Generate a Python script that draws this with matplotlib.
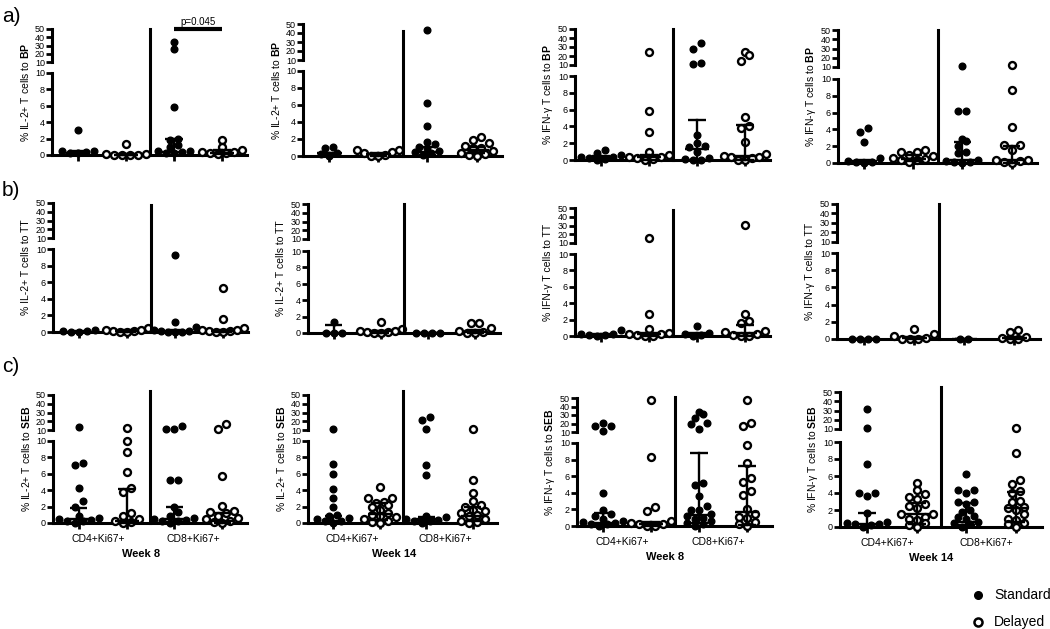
import numpy as np
import matplotlib
matplotlib.use("Agg")
import matplotlib.pyplot as plt
from matplotlib.lines import Line2D

plt.rcParams['font.family'] = ['Liberation Sans', 'DejaVu Sans']
plt.rcParams['mathtext.fontset'] = 'custom'
plt.rcParams['mathtext.rm'] = 'Liberation Sans'
plt.rcParams['mathtext.bf'] = 'Liberation Sans:bold'

W, H = 1050, 629

# groups in every panel: CD4 Standard, CD4 Delayed, CD8 Standard, CD8 Delayed
group_x = [1, 2, 3, 4]
group_filled = [True, False, True, False]
categories = ["CD4+Ki67+", "CD8+Ki67+"]
weeks = ["Week 8", "Week 14", "Week 8", "Week 14"]

# ---- row a) BP ----
a_il2_w8 = [
    [3.0, 0.5, 0.4, 0.3, 0.2, 0.5],
    [1.3, 0.1, 0.0, 0.0, 0.1, 0.0, 0.05],
    [34, 26, 5.8, 2.0, 1.8, 1.2, 1.0, 0.5, 0.4, 0.3, 0.2, 0.5],
    [1.8, 1.0, 0.6, 0.4, 0.3, 0.2, 0.1, 0.4],
]
a_il2_w8_stats = [(0.3, 0.1, 0.45), (0.05, 0.0, 0.1), (0.4, 0.0, 1.9), (0.3, 0.1, 0.6)]

a_il2_w14 = [
    [1.1, 0.9, 0.3, 0.2, 0.0],
    [0.7, 0.7, 0.5, 0.3, 0.1, 0.0, 0.0],
    [43, 6.2, 3.5, 1.7, 1.4, 1.1, 0.9, 0.6, 0.5, 0.3, 0.1],
    [2.2, 1.9, 1.5, 1.2, 1.0, 0.9, 0.6, 0.4, 0.2, 0.1, 0.0],
]
a_il2_w14_stats = [(0.3, 0.1, 0.4), (0.2, 0.0, 0.4), (0.5, 0.1, 1.1), (0.7, 0.3, 1.1)]

a_ifn_w8 = [
    [1.2, 0.8, 0.6, 0.4, 0.3, 0.2, 0.1, 0.0],
    [25, 5.8, 3.3, 1.0, 0.6, 0.4, 0.3, 0.2, 0.1, 0.0],
    [34, 28, 12, 11, 3.0, 2.0, 1.7, 1.5, 1.0, 0.2, 0.0, 0.0, 0.1],
    [24, 21, 14.5, 5.1, 4.1, 3.8, 2.1, 0.7, 0.5, 0.4, 0.3, 0.2, 0.0, 0.0],
]
a_ifn_w8_stats = [(0.3, 0.1, 0.5), (0.3, 0.0, 0.6), (1.3, 0.0, 4.8), (0.5, 0.0, 4.2)]

a_ifn_w14 = [
    [4.2, 3.7, 2.5, 0.6, 0.2, 0.1, 0.0, 0.1],
    [1.5, 1.3, 1.3, 1.0, 0.8, 0.6, 0.4, 0.3, 0.1, 0.5],
    [11, 6.2, 6.2, 2.9, 2.6, 2.0, 1.3, 1.2, 0.3, 0.2, 0.1, 0.0, 0.1],
    [12, 8.7, 4.3, 2.1, 2.1, 1.5, 0.4, 0.3, 0.2, 0.1, 0.0],
]
a_ifn_w14_stats = [(0.2, 0.0, 0.3), (0.5, 0.2, 1.0), (0.3, 0.0, 2.5), (0.4, 0.0, 2.0)]

# ---- row b) TT ----
b_il2_w8 = [
    [0.1, 0.0, 0.1, 0.0, 0.2],
    [0.5, 0.3, 0.2, 0.1, 0.0, 0.0, 0.1],
    [9.3, 1.2, 0.6, 0.2, 0.1, 0.0, 0.0, 0.0, 0.1],
    [5.3, 1.6, 0.5, 0.3, 0.2, 0.1, 0.0, 0.0, 0.1],
]
b_il2_w8_stats = [(0.05, 0.0, 0.1), (0.1, 0.0, 0.2), (0.1, 0.0, 0.2), (0.1, 0.0, 0.2)]

b_il2_w14 = [
    [1.3, 0.05, 0.0, 0.0],
    [1.3, 0.5, 0.3, 0.2, 0.1, 0.0, 0.0, 0.1],
    [0.0, 0.0, 0.0, 0.0],
    [1.2, 1.2, 0.6, 0.3, 0.1, 0.0, 0.0],
]
b_il2_w14_stats = [(0.05, 0.0, 1.0), (0.2, 0.0, 0.3), (0.0, 0.0, 0.0), (0.1, 0.0, 0.4)]

b_ifn_w8 = [
    [0.7, 0.3, 0.2, 0.1, 0.0, 0.1],
    [15.5, 2.7, 0.8, 0.4, 0.3, 0.2, 0.1, 0.0, 0.0],
    [1.2, 0.4, 0.3, 0.1, 0.0],
    [31, 2.7, 1.8, 1.6, 0.6, 0.5, 0.3, 0.1, 0.0, 0.0],
]
b_ifn_w8_stats = [(0.1, 0.0, 0.2), (0.2, 0.0, 0.4), (0.2, 0.0, 0.4), (0.4, 0.0, 1.3)]

b_ifn_w14 = [
    [0.0, 0.0, 0.0, 0.0],
    [1.2, 0.6, 0.3, 0.1, 0.0, 0.0, 0.0],
    [0.0, 0.0],
    [1.1, 0.8, 0.2, 0.1, 0.0, 0.0],
]
b_ifn_w14_stats = [(0.0, 0.0, 0.0), (0.1, 0.0, 0.2), (0.0, 0.0, 0.0), (0.1, 0.0, 0.2)]

# ---- row c) SEB ----
c_il2_w8 = [
    [14, 7.3, 7.1, 4.3, 2.7, 2.0, 0.8, 0.6, 0.5, 0.3, 0.2, 0.0, 0.4],
    [12, 10.0, 8.7, 6.2, 4.3, 3.8, 1.2, 0.8, 0.5, 0.3, 0.1, 0.0],
    [15, 11, 11, 5.3, 5.3, 2.0, 1.4, 0.8, 0.6, 0.5, 0.4, 0.3, 0.2, 0.0],
    [17, 11, 5.7, 2.1, 1.5, 1.3, 1.2, 0.8, 0.6, 0.5, 0.3, 0.1, 0.0],
]
c_il2_w8_stats = [(0.5, 0.0, 1.8), (0.2, 0.0, 4.2), (0.5, 0.1, 2.0), (0.3, 0.0, 1.2)]

c_il2_w14 = [
    [11, 7.2, 6.0, 4.1, 3.0, 2.0, 1.0, 0.8, 0.6, 0.5, 0.3, 0.0, 0.2],
    [4.4, 3.0, 3.0, 2.6, 2.5, 2.2, 2.0, 1.6, 1.2, 1.0, 0.8, 0.7, 0.5, 0.3, 0.0, 0.1],
    [25, 22, 11, 7.1, 5.9, 0.9, 0.7, 0.5, 0.4, 0.3, 0.2, 0.0],
    [11, 5.2, 3.7, 2.7, 2.2, 2.0, 1.6, 1.5, 1.2, 1.0, 0.8, 0.5, 0.3, 0.1, 0.0],
]
c_il2_w14_stats = [(0.3, 0.0, 0.9), (1.1, 0.4, 2.4), (0.5, 0.2, 0.7), (0.8, 0.2, 1.9)]

c_ifn_w8 = [
    [20.5, 16.5, 11, 17.5, 4.0, 1.9, 1.5, 1.2, 0.8, 0.6, 0.5, 0.4, 0.3, 0.2, 0.0],
    [48, 8.3, 2.3, 1.8, 0.6, 0.4, 0.3, 0.2, 0.0, 0.0],
    [34, 26, 31, 20.5, 19, 14, 5.2, 4.9, 3.6, 2.4, 1.9, 1.9, 1.5, 1.2, 1.0, 0.8, 0.6, 0.4,
     0.2, 0.0],
    [48, 20.5, 17, 9.8, 7.6, 5.8, 5.3, 4.2, 3.7, 2.0, 1.5, 1.1, 1.0, 0.5, 0.3, 0.0],
]
c_ifn_w8_stats = [(0.4, 0.1, 1.6), (0.2, 0.0, 0.5), (1.3, 0.4, 8.8), (1.7, 0.1, 7.2)]

c_ifn_w14 = [
    [32, 11.5, 7.4, 4.0, 4.0, 3.7, 1.7, 0.6, 0.5, 0.4, 0.3, 0.2, 0.0],
    [5.2, 4.4, 3.9, 3.5, 3.3, 2.7, 2.5, 2.2, 1.5, 1.2, 1.0, 0.8, 0.5, 0.2, 0.0, 1.5],
    [6.2, 4.4, 4.3, 4.0, 3.0, 2.9, 2.7, 2.0, 1.8, 1.3, 1.2, 0.6, 0.5, 0.3, 0.0, 1.0],
    [11.5, 8.7, 5.5, 5.1, 4.2, 4.0, 3.1, 2.9, 2.3, 2.2, 2.0, 1.5, 1.0, 0.8, 0.5, 0.3, 0.0],
]
c_ifn_w14_stats = [(0.3, 0.0, 1.6), (1.5, 0.4, 2.8), (0.6, 0.2, 2.8), (2.2, 0.6, 4.1)]

panel_data = [
    [a_il2_w8, a_il2_w14, a_ifn_w8, a_ifn_w14],
    [b_il2_w8, b_il2_w14, b_ifn_w8, b_ifn_w14],
    [c_il2_w8, c_il2_w14, c_ifn_w8, c_ifn_w14],
]
panel_stats = [
    [a_il2_w8_stats, a_il2_w14_stats, a_ifn_w8_stats, a_ifn_w14_stats],
    [b_il2_w8_stats, b_il2_w14_stats, b_ifn_w8_stats, b_ifn_w14_stats],
    [c_il2_w8_stats, c_il2_w14_stats, c_ifn_w8_stats, c_ifn_w14_stats],
]
row_letters = ["a)", "b)", "c)"]
antigens = [r"$\mathbf{BP}$", "TT", r"$\mathbf{SEB}$"]
cytokines = ["IL-2+", "IL-2+", "IFN-\u03b3", "IFN-\u03b3"]

# layout in pixels: left, right, y(50), y(10 upper), y(10 lower), y(0)
panel_px = [
    [(52, 247, 29, 62, 73, 155), (303, 502, 24, 60, 71, 156),
     (575, 770, 29, 65, 76, 160), (838, 1037, 30, 67, 79, 163)],
    [(53, 248, 203, 238, 249, 332), (308, 500, 204, 239, 251, 333),
     (575, 770, 208, 243, 254, 336), (837, 1040, 204, 242, 253, 339)],
    [(53, 247, 395, 430, 441, 523), (308, 497, 395, 430, 441, 523),
     (577, 772, 398, 432, 443, 526), (840, 1042, 392, 429, 442, 527)],
]
vline_top = [[50, 42, 50, 50], [48, 50, 48, 50], [55, 55, 51, 55]]
XLIM = (0.46, 4.52)
LW = 2.2


def box(l, r, ytop, ybot):
    return [l / W, 1 - ybot / H, (r - l) / W, (ybot - ytop) / H]


def row_spread(xc, ys, d=8.0, tol=6.5, half_width=21.0):
    """GraphPad-like scatter: points at similar heights go side by side, centred"""
    xs = np.zeros(len(ys))
    order = np.argsort(ys)
    rows = []
    for i in order:
        if rows and ys[i] - ys[rows[-1][0]] <= tol:
            rows[-1].append(i)
        else:
            rows.append([i])
    for row in rows:
        n = len(row)
        step = d if n < 2 else min(d, 2 * half_width / (n - 1))
        slots = [(j - (n - 1) / 2) * step for j in range(n)]
        # lowest values in the middle, higher ones outwards
        slots.sort(key=lambda s: (abs(s), s))
        for s, i in zip(slots, row):
            xs[i] = xc + s
    return xs


fig = plt.figure(figsize=(W / 100, H / 100), dpi=100)

for r in range(3):
    for c in range(4):
        l, rt, y50, y10u, y10l, y0 = panel_px[r][c]
        ax_t = fig.add_axes(box(l, rt, y50, y10u))
        ax_b = fig.add_axes(box(l, rt, y10l, y0))
        ax_t.set_ylim(10, 50)
        ax_b.set_ylim(0, 10)
        for ax in (ax_t, ax_b):
            ax.set_xlim(*XLIM)
            ax.patch.set_alpha(0)
            for s in ("top", "right"):
                ax.spines[s].set_visible(False)
            ax.spines["left"].set_linewidth(LW)
            ax.tick_params(axis="y", direction="out", length=4, width=2, labelsize=6.5, pad=1)
        ax_t.spines["bottom"].set_visible(False)
        ax_t.set_xticks([])
        ax_t.set_yticks([10, 20, 30, 40, 50])
        ax_b.set_yticks([0, 2, 4, 6, 8, 10])
        ax_b.spines["bottom"].set_linewidth(LW)
        ax_b.set_xticks(group_x)
        ax_b.tick_params(axis="x", direction="out", length=4, width=2, labelbottom=False)

        # divider line between CD4 and CD8 blocks
        xd, yd0 = ax_b.transData.transform((2.5, 0))
        _, yd1 = ax_t.transData.transform((2.5, vline_top[r][c]))
        fig.add_artist(Line2D([xd / W, xd / W], [yd0 / H, yd1 / H], color="black",
                              lw=LW, transform=fig.transFigure, zorder=3))

        # points
        for g, vals in enumerate(panel_data[r][c]):
            vals = np.asarray(vals, dtype=float)
            disp = []
            for v in vals:
                ax = ax_t if v > 10 else ax_b
                disp.append(ax.transData.transform((group_x[g], v)))
            disp = np.array(disp)
            xs = row_spread(disp[0, 0], disp[:, 1])
            xdata = ax_b.transData.inverted().transform(np.column_stack([xs, disp[:, 1]]))[:, 0]
            hi = vals > 10
            for ax, m in ((ax_t, hi), (ax_b, ~hi)):
                if not m.any():
                    continue
                if group_filled[g]:
                    ax.plot(xdata[m], vals[m], "o", ms=4.8, color="black", mec="black",
                            clip_on=False, zorder=5)
                else:
                    ax.plot(xdata[m], vals[m], "o", ms=5.0, mfc="white", mec="black",
                            mew=1.7, clip_on=False, zorder=5)
            med, q1, q3 = panel_stats[r][c][g]
            gx = group_x[g]
            ax_b.plot([gx - 0.25, gx + 0.25], [med, med], color="black", lw=1.7, zorder=6,
                      clip_on=False, solid_capstyle="butt")
            ax_b.plot([gx, gx], [q1, q3], color="black", lw=1.7, zorder=6, clip_on=False)
            for q in (q1, q3):
                ax_b.plot([gx - 0.18, gx + 0.18], [q, q], color="black", lw=1.7, zorder=6,
                          clip_on=False, solid_capstyle="butt")

        # y label spanning both parts
        fig.text((l - 27) / W, 1 - (y50 + y0) / 2 / H,
                 f"% {cytokines[c]} T cells to {antigens[r]}",
                 rotation=90, ha="center", va="center", fontsize=7.5)

        if r == 0 and c == 0:
            ax_t.plot([3, 4], [50, 50], color="black", lw=3, clip_on=False,
                      solid_capstyle="butt")
            ax_t.annotate("p=0.045", (3.5, 50), xytext=(0, 1.5), textcoords="offset points",
                          ha="center", va="bottom", fontsize=7)

        if r == 2:
            for k, lab in enumerate(categories):
                ax_b.annotate(lab, (1.4 + 2 * k, 0), xytext=(0, -8), textcoords="offset points",
                              ha="center", va="top", fontsize=7.5, annotation_clip=False)
            ax_b.annotate(weeks[c], (2.3, 0), xytext=(0, -19), textcoords="offset points",
                          ha="center", va="top", fontsize=8, fontweight="bold",
                          annotation_clip=False)

for lab, yp in zip(row_letters, [17, 190, 366]):
    fig.text(2 / W, 1 - yp / H, lab, fontsize=15, ha="left", va="center")

# legend
leg_labels = ["Standard", "Delayed"]
for k, (lab, yp) in enumerate(zip(leg_labels, [595, 622])):
    if group_filled[k]:
        fig.add_artist(Line2D([978 / W], [1 - yp / H], marker="o", ms=5.5, color="black",
                              ls="none", transform=fig.transFigure))
    else:
        fig.add_artist(Line2D([978 / W], [1 - yp / H], marker="o", ms=5.8, mfc="white",
                              mec="black", mew=1.8, ls="none", transform=fig.transFigure))
    fig.text(994 / W, 1 - yp / H, lab, fontsize=10, ha="left", va="center")

fig.savefig("out.png", dpi=100)
